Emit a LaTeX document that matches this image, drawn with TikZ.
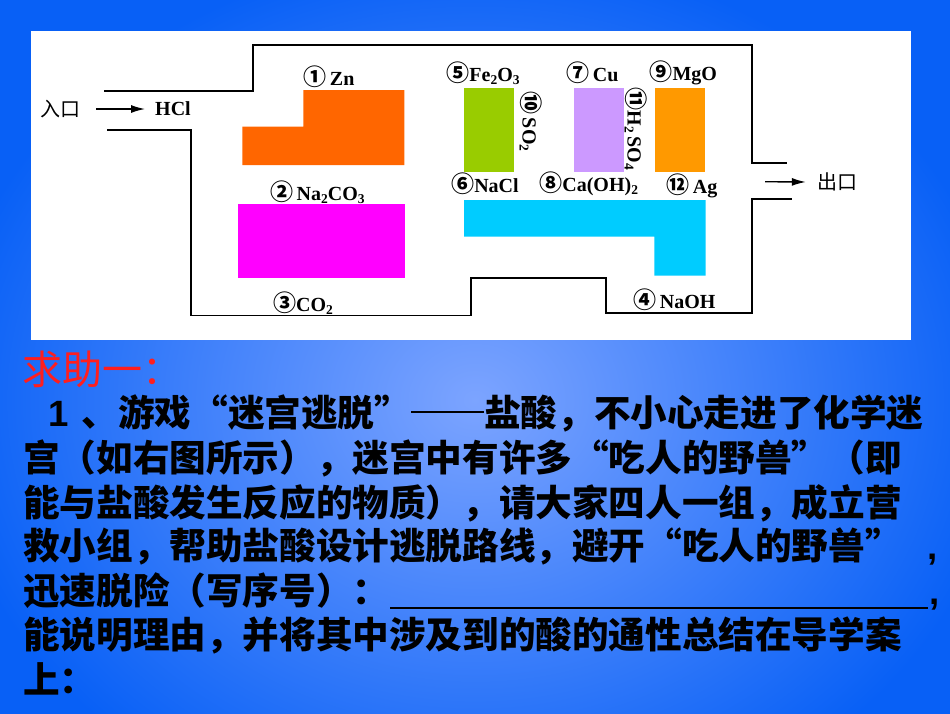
\documentclass[tikz,border=0pt]{standalone}
\usepackage{fontspec}
\usetikzlibrary{arrows.meta}
\newfontfamily\cjk{Noto Sans CJK SC}
\newfontfamily\chemfont{Liberation Serif}
\newfontfamily\arialfont{Liberation Sans}
\definecolor{bgout}{RGB}{8,96,246}
\definecolor{bgin}{RGB}{124,164,255}
\definecolor{znor}{HTML}{FF6600}
\definecolor{mgor}{HTML}{FF9900}
\definecolor{fegreen}{HTML}{99CC00}
\definecolor{cupurp}{HTML}{CC99FF}
\definecolor{nacyan}{HTML}{00CCFF}
\definecolor{namag}{HTML}{FF00FF}
\definecolor{titlered}{RGB}{255,30,30}
\newcommand\oq{\makebox[1em][r]{“}}
\newcommand\cq{\makebox[1em][l]{”}}
\newcommand\chsub[1]{\raisebox{-3pt}{\fontsize{13.5}{13.5}\selectfont #1}}
\newcommand\cn[1]{{\cjk\fontsize{23}{23}\selectfont #1}}
\tikzset{
  wall/.style={line width=1.8pt, line join=miter},
  arr/.style={line width=1.4pt, -{Latex[length=14pt,width=8pt]}},
  lab/.style={font=\chemfont\bfseries\fontsize{20}{20}\selectfont, inner sep=0pt},
  cnlab/.style={font=\cjk\fontsize{20}{20}\selectfont, inner sep=0pt},
  body/.style={font=\cjk\bfseries\fontsize{36.6}{36.6}\selectfont, anchor=base west, inner sep=0pt, text=black},
  latcomma/.style={font=\arialfont\bfseries\fontsize{36.6}{36.6}\selectfont, anchor=base west, inner sep=0pt, text=black},
  blk/.style={draw=none, inner sep=0pt, anchor=north west},
}
\begin{document}
\begin{tikzpicture}[x=1pt,y=-1pt]
\useasboundingbox (0,0) rectangle (950,713);
% background
\begin{scope}
\clip (0,0) rectangle (950,713);
\fill[bgout] (0,0) rectangle (950,713);
\shade[inner color=bgin, outer color=bgout] (-60,-50) rectangle (1010,850);
\end{scope}
\fill[white] (31,31) rectangle (911,340);
% maze walls
\draw[wall] (104,90.7) -- (253,90.7) -- (253,45) -- (752,45) -- (752,163) -- (787,163);
\draw[wall] (107,129.7) -- (191,129.7) -- (191,315.5) -- (471,315.5) -- (471,277.7) -- (606,277.7) -- (606,313.3) -- (752,313.3) -- (752,199.3) -- (792,199.3);
% coloured blocks
\fill[znor] (242.3,126.7) -- (303.3,126.7) -- (303.3,90) -- (404.3,90) -- (404.3,165) -- (242.3,165) -- cycle;
\node[blk, fill=namag, minimum width=167.4pt, minimum height=74pt] (mag) at (237.3,203.7) {};
\node[blk, fill=fegreen, minimum width=50pt, minimum height=84pt] (green) at (464,87.3) {};
\node[blk, fill=cupurp, minimum width=50pt, minimum height=84pt] (purple) at (574,87.3) {};
\node[blk, fill=mgor, minimum width=50.7pt, minimum height=84pt] (mgo) at (654.3,87.3) {};
\fill[nacyan] (464,200) -- (705.7,200) -- (705.7,275.7) -- (654.3,275.7) -- (654.3,236.7) -- (464,236.7) -- cycle;
% entrance / exit
\node[cnlab] (in) at (60,109) {入口};
\node[lab] (hcl) at (173,109) {HCl};
\draw[arr] ([xshift=16pt]in.east) -- ([xshift=-10pt]hcl.west);
\node[cnlab] (out) at (837,182) {出口};
\coordinate (exitstart) at (765,181.7);
\draw[arr] (exitstart) -- ([xshift=-11pt]out.west);
% labels
\node[lab] (l1) at (329,76.7) {\cn{①}\,Zn};
\node[lab] (l2) at (317.5,192) {\cn{②}\,Na\chsub{2}CO\chsub{3}};
\node[lab] (l3) at (303,303) {\cn{③}CO\chsub{2}};
\node[lab] (l4) at (674.5,300) {\cn{④}\,NaOH};
\node[lab] (l5) at (483,73) {\cn{⑤}Fe\chsub{2}O\chsub{3}};
\node[lab] (l6) at (485,184) {\cn{⑥}NaCl};
\node[lab] (l7) at (592.5,73) {\cn{⑦}\,Cu};
\node[lab] (l8) at (588.7,184) {\cn{⑧}Ca(OH)\chsub{2}};
\node[lab] (l9) at (683.3,73) {\cn{⑨}MgO};
\node[lab, rotate=-90] (l10) at (531,121.5) {\cn{⑩}\,SO\chsub{2}};
\node[lab, rotate=-90] (l11) at (636,129) {\cn{⑪}H\chsub{2}\,SO\chsub{4}};
\node[lab] (l12) at (692,186) {\cn{⑫}\,Ag};
% text
\node[font=\cjk\fontsize{40}{40}\selectfont, text=titlered, anchor=base west, inner sep=0pt] (title) at (22,384.5) {求助一：};
\node[body, font=\arialfont\bfseries\fontsize{36.6}{36.6}\selectfont] (one) at (48,426.3) {1};
\node[body] (t1) at (81.4,426.3) {、游戏\oq 迷宫逃脱\cq\rule[0.35em]{2em}{0.08em}盐酸，不小心走进了化学迷};
\node[body] (t2) at (23,471.3) {宫（如右图所示），迷宫中有许多\oq 吃人的野兽\cq（即};
\node[body] (t3) at (23,516) {能与盐酸发生反应的物质），请大家四人一组，成立营};
\node[body] (t4) at (23,559.8) {救小组，帮助盐酸设计逃脱路线，避开\oq 吃人的野兽\cq};
\node[latcomma] (t4c) at (927,559.8) {,};
\node[body] (t5) at (23,604.3) {迅速脱险（写序号）：};
\coordinate (ulend) at (928.3,608);
\draw[line width=1.5pt] ([xshift=0.7pt,yshift=-3.7pt]t5.base east) -- (ulend);
\node[latcomma] (t5c) at (929,604.3) {,};
\node[body] (t6) at (23,648.8) {能说明理由，并将其中涉及到的酸的通性总结在导学案};
\node[body] (t7) at (23,693.3) {上：};
\end{tikzpicture}
\end{document}
